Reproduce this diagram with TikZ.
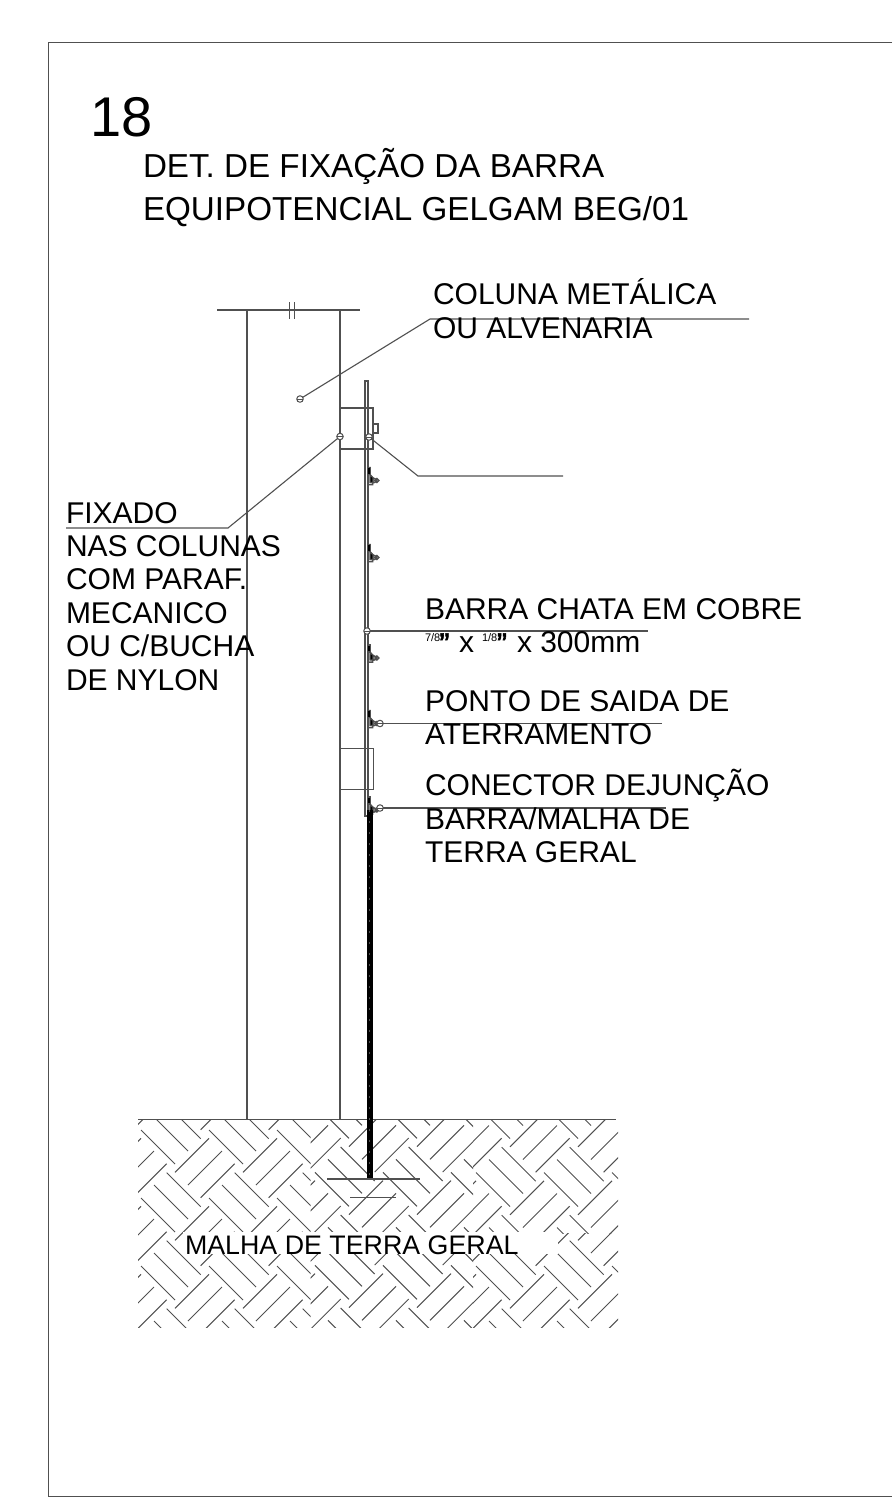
\documentclass[tikz,border=0pt]{standalone}
\usepackage{fontspec}
\setmainfont{Liberation Sans}
\definecolor{ln}{HTML}{505050}
\newcommand{\fs}[1]{\fontsize{#1}{#1}\selectfont}
\newcommand{\hatchtiles}{%
  \foreach \i in {-1,...,8}{\foreach \j in {-1,...,3}{
    \begin{scope}[shift={(68*\i,68*\j)}]
      \draw[hatchln] (141,1130)--(175,1164) (154,1117)--(188,1151) (166.7,1104.7)--(200.7,1138.7)
        (175,1172.3)--(209,1138.3) (188,1185)--(222,1151) (200.7,1197.7)--(234.7,1163.7);
    \end{scope}}}}
\tikzset{
  ln/.style={draw=ln,line width=1.1pt},
  hatchln/.style={draw=ln,line width=1pt},
  lbl/.style={anchor=base west,inner sep=0pt,outer sep=0pt,text=black,font=\fs{30}},
  mk/.style={circle,draw=ln,line width=1pt,minimum size=6.5pt,inner sep=0pt,outer sep=0pt,fill=white,
    path picture={\draw[ln,line width=.9pt] (path picture bounding box.west)--(path picture bounding box.east);}},
  conn/.pic={\draw[draw=ln,line width=1.5pt] (1,0)--(3,0)--(3,7)--(5.5,10)--(5.5,17)--(0.5,17)
     (7,13) circle (2.1) (9.8,13) circle (1.9);
     \fill[ln] (.8,0) rectangle (3.2,7);
     \fill[ln] (3,8)--(6,10)--(6,15)--(3,15)--cycle;}
}
\begin{document}
\begin{tikzpicture}[x=1pt,y=-1pt]
\useasboundingbox (0,0) rectangle (892,1505);
% border
\coordinate (b1) at (892,42); \coordinate (b2) at (48,42); \coordinate (b3) at (48,1496); \coordinate (b4) at (892,1496);
\draw[ln,line width=.85pt] (b1)--(b2)--(b3)--(b4);
% hatch
\begin{scope}\clip (138,1120) rectangle (310.7,1327.5);\hatchtiles\end{scope}
\begin{scope}\clip (310.7,1120) rectangle (473,1233);\begin{scope}[shift={(38,42.3)}]\hatchtiles\end{scope}\end{scope}
\begin{scope}\clip (473,1120) rectangle (618,1233);\begin{scope}[shift={(63,42.5)}]\hatchtiles\end{scope}\end{scope}
\begin{scope}\clip (310.7,1233) rectangle (473,1327.5);\begin{scope}[shift={(38,67.3)}]\hatchtiles\end{scope}\end{scope}
\begin{scope}\clip (473,1233) rectangle (618,1327.5);\begin{scope}[shift={(63,68)}]\hatchtiles\end{scope}\end{scope}
\fill[white] (183,1232) rectangle (558,1253.5);
% ground
\coordinate (g1) at (138,1119.5); \coordinate (g2) at (616,1119.5);
\draw[ln] (g1)--(g2);
% column
\coordinate (c1) at (247,310); \coordinate (c2) at (247,1119.5);
\coordinate (c3) at (340,310); \coordinate (c4) at (340,1119.5);
\draw[ln] (c1)--(c2) (c3)--(c4);
\coordinate (t1) at (217,310); \coordinate (t2) at (360,310);
\draw[ln] (t1)--(t2);
\draw[ln] (289.5,302)--(289.5,319) (294.5,302)--(294.5,319);
% brackets
\draw[ln] (340,408) rectangle (373,449);
\draw[ln] (373,424) rectangle (378,433);
\draw[ln,line width=.9pt] (340,748) rectangle (373,789);
% bar
\draw[ln] (365,816)--(365,381)--(368,381)--(368,816)--cycle;
% connectors
\foreach \y in {467.5,544.5,645,710.5,797} \pic at (367,\y) {conn};
% cable
\coordinate (k1) at (369.7,810); \coordinate (k2) at (369.7,1179);
\draw[black,line width=6pt] (k1)--(k2);
\draw[ln,line width=.7pt,dash pattern=on 2pt off 9pt] (k1)--(k2);
% ground plates
\coordinate (p1) at (327,1179); \coordinate (p2) at (420,1179);
\coordinate (p3) at (350,1197.5); \coordinate (p4) at (396,1197.5);
\draw[ln] (p1)--(p2) (p3)--(p4);
% leaders
\node[mk] (m1) at (300,399) {};
\coordinate (m1a) at (430,319); \coordinate (m1b) at (749,319);
\draw[ln] (m1)--(m1a)--(m1b);
\node[mk] (m2) at (340,436.5) {};
\coordinate (m2a) at (228,528); \coordinate (m2b) at (66,528);
\draw[ln] (m2)--(m2a)--(m2b);
\node[mk] (m3) at (369,437) {};
\coordinate (m3a) at (418,476); \coordinate (m3b) at (563,476);
\draw[ln] (m3)--(m3a)--(m3b);
\node[mk] (m4) at (367,631) {};
\coordinate (m4b) at (648,631);
\draw[ln] (m4)--(m4b);
\node[mk] (m5) at (380,723.5) {};
\coordinate (m5b) at (662,723.5);
\draw[ln] (m5)--(m5b);
\node[mk] (m6) at (380,808) {};
\coordinate (m6b) at (666,808);
\draw[ln] (m6)--(m6b);
% texts
\node[lbl,font=\fs{56}] (n18) at (90,136.5) {18};
\node[lbl,font=\fs{33.2}] (tt1) at (143,177) {DET. DE FIXAÇÃO DA BARRA};
\node[lbl,font=\fs{33.2}] (tt2) at (143,220) {EQUIPOTENCIAL GELGAM BEG/01};
\node[lbl] (a1) at (433,304) {COLUNA METÁLICA};
\node[lbl] (a2) at (433,338) {OU ALVENARIA};
\node[lbl] (f1) at (66,523) {FIXADO};
\node[lbl] (f2) at (66,556) {NAS COLUNAS};
\node[lbl] (f3) at (66,589) {COM PARAF.};
\node[lbl] (f4) at (66,623) {MECANICO};
\node[lbl] (f5) at (66,656) {OU C/BUCHA};
\node[lbl] (f6) at (66,690) {DE NYLON};
\node[lbl] (b1t) at (425,619) {BARRA CHATA EM COBRE};
\node[lbl,font=\fs{11}] (s1) at (425,641) {7/8};
\node[lbl,font=\fs{30}] (s2) at (439.5,654) {\addfontfeature{FakeBold=2}\symbol{34}};
\node[lbl] (s2b) at (459,652) {x};
\node[lbl,font=\fs{11}] (s3) at (482,641) {1/8};
\node[lbl,font=\fs{30}] (s4) at (497,654) {\addfontfeature{FakeBold=2}\symbol{34}};
\node[lbl] (s4b) at (517,652) {x 300mm};
\node[lbl] (p1t) at (425,711) {PONTO DE SAIDA DE};
\node[lbl] (p2t) at (425,744) {ATERRAMENTO};
\node[lbl] (j1) at (425,795) {CONECTOR DEJUNÇÃO};
\node[lbl] (j2) at (425,829) {BARRA/MALHA DE};
\node[lbl] (j3) at (425,862) {TERRA GERAL};
\node[lbl,font=\fs{26.8}] (mg) at (185,1254) {MALHA DE TERRA GERAL};
\end{tikzpicture}
\end{document}
